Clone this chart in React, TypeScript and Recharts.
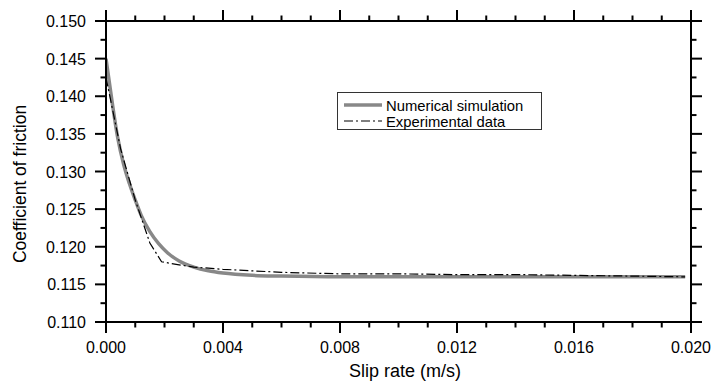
import { Legend, Line, LineChart, XAxis, YAxis } from 'recharts';

// numerical simulation (gray solid)
const simX = [0, 0.0002, 0.0004, 0.0006, 0.0008, 0.001, 0.0012, 0.0015, 0.0018, 0.0021, 0.0025, 0.003, 0.0035, 0.004, 0.005, 0.006, 0.008, 0.012, 0.016, 0.0198];
const simY = [0.145, 0.1395, 0.1345, 0.131, 0.1284, 0.1262, 0.1242, 0.122, 0.1204, 0.1192, 0.1181, 0.1173, 0.1168, 0.1165, 0.1162, 0.1161, 0.116, 0.116, 0.116, 0.116];

// experimental data (black dash-dot)
const expX = [0, 0.0005, 0.001, 0.0015, 0.0019, 0.0025, 0.003, 0.004, 0.005, 0.006, 0.008, 0.01, 0.012, 0.014, 0.016, 0.018, 0.0198];
const expY = [0.1425, 0.133, 0.1262, 0.1205, 0.118, 0.1176, 0.1173, 0.117, 0.1168, 0.1166, 0.1164, 0.1164, 0.1163, 0.1163, 0.1162, 0.1161, 0.116];

const xTicks = [0, 0.001, 0.002, 0.003, 0.004, 0.005, 0.006, 0.007, 0.008, 0.009, 0.01, 0.011, 0.012, 0.013, 0.014, 0.015, 0.016, 0.017, 0.018, 0.019, 0.02];
const xLabelTicks = [0, 0.004, 0.008, 0.012, 0.016, 0.02];
const yTicks = [0.11, 0.1125, 0.115, 0.1175, 0.12, 0.1225, 0.125, 0.1275, 0.13, 0.1325, 0.135, 0.1375, 0.14, 0.1425, 0.145, 0.1475, 0.15];
const yLabelTicks = [0.11, 0.115, 0.12, 0.125, 0.13, 0.135, 0.14, 0.145, 0.15];

const simData = simX.map((x, i) => ({ x, y: simY[i] }));
const expData = expX.map((x, i) => ({ x, y: expY[i] }));

const FONT = '"Liberation Sans", Arial, sans-serif';
const MAJOR = 11;
const MINOR = 5.5;

const isIn = (v: number, list: number[]) => list.some((t) => Math.abs(t - v) < 1e-7);

function makeTick(side: 'bottom' | 'top' | 'left' | 'right') {
  return (props: any) => {
    const { x, y, payload } = props;
    const v = payload.value;
    const major = isIn(v, side === 'bottom' || side === 'top' ? xLabelTicks : yLabelTicks);
    const len = major ? MAJOR : MINOR;
    if (side === 'bottom') {
      return (
        <g>
          <line x1={x} y1={y} x2={x} y2={y + len} stroke="#000" strokeWidth={2} />
          {major && (
            <text x={x} y={y + 31} textAnchor="middle" fontSize={16} fontFamily={FONT} fill="#000">
              {v.toFixed(3)}
            </text>
          )}
        </g>
      );
    }
    if (side === 'top') {
      return <line x1={x} y1={y} x2={x} y2={y - len} stroke="#000" strokeWidth={2} />;
    }
    if (side === 'left') {
      return (
        <g>
          <line x1={x} y1={y} x2={x - len} y2={y} stroke="#000" strokeWidth={2} />
          {major && (
            <text x={x - 20} y={y + 6} textAnchor="end" fontSize={16} fontFamily={FONT} fill="#000">
              {v.toFixed(3)}
            </text>
          )}
        </g>
      );
    }
    return <line x1={x} y1={y} x2={x + len} y2={y} stroke="#000" strokeWidth={2} />;
  };
}

function LegendBox() {
  return (
    <svg width={206} height={39} style={{ display: 'block' }}>
      <rect x={0.5} y={0.5} width={204} height={37} fill="#fff" stroke="#333" strokeWidth={1} />
      <line x1={7} y1={13} x2={45} y2={13} stroke="#888" strokeWidth={3.5} />
      <text x={49} y={18.5} fontSize={14.8} fontFamily={FONT} fill="#000">Numerical simulation</text>
      <line x1={7} y1={29} x2={45} y2={29} stroke="#000" strokeWidth={1.2} strokeDasharray="9 3 2 3" />
      <text x={49} y={34.5} fontSize={14.8} fontFamily={FONT} fill="#000">Experimental data</text>
    </svg>
  );
}

export default function App() {
  return (
    <div style={{ position: 'absolute', left: 0, top: 0, width: 712, height: 389, background: '#fff' }}>
      <LineChart width={712} height={389} margin={{ top: 0, right: 0, bottom: 0, left: 0 }}>
        <XAxis
          xAxisId="bottom"
          type="number"
          dataKey="x"
          domain={[0, 0.02]}
          ticks={xTicks}
          interval={0}
          height={67}
          orientation="bottom"
          axisLine={{ stroke: '#000', strokeWidth: 2 }}
          tickLine={false}
          tickSize={0}
          tickMargin={0}
          tick={makeTick('bottom')}
          allowDataOverflow
          label={{
            content: () => (
              <text x={405} y={377} textAnchor="middle" fontSize={18} fontFamily={FONT} fill="#000">
                Slip rate (m/s)
              </text>
            ),
          }}
        />
        <XAxis
          xAxisId="top"
          type="number"
          dataKey="x"
          domain={[0, 0.02]}
          ticks={xTicks}
          interval={0}
          height={21}
          orientation="top"
          axisLine={{ stroke: '#000', strokeWidth: 2 }}
          tickLine={false}
          tickSize={0}
          tickMargin={0}
          tick={makeTick('top')}
          allowDataOverflow
        />
        <YAxis
          yAxisId="left"
          type="number"
          domain={[0.11, 0.15]}
          ticks={yTicks}
          interval={0}
          width={106}
          orientation="left"
          axisLine={{ stroke: '#000', strokeWidth: 2 }}
          tickLine={false}
          tickSize={0}
          tickMargin={0}
          tick={makeTick('left')}
          allowDataOverflow
          label={{
            content: () => (
              <text
                x={26}
                y={184}
                transform="rotate(-90 26 184)"
                textAnchor="middle"
                fontSize={17.5}
                fontFamily={FONT}
                fill="#000"
              >
                Coefficient of friction
              </text>
            ),
          }}
        />
        <YAxis
          yAxisId="right"
          type="number"
          domain={[0.11, 0.15]}
          ticks={yTicks}
          interval={0}
          width={21}
          orientation="right"
          axisLine={{ stroke: '#000', strokeWidth: 2 }}
          tickLine={false}
          tickSize={0}
          tickMargin={0}
          tick={makeTick('right')}
          allowDataOverflow
        />
        <Legend
          layout="horizontal"
          verticalAlign="middle"
          align="center"
          content={() => <LegendBox />}
          wrapperStyle={{ position: 'absolute', left: 337, top: 92, width: 206, height: 39 }}
        />
        <Line
          xAxisId="bottom"
          yAxisId="left"
          data={simData}
          dataKey="y"
          type="monotone"
          stroke="#888"
          strokeWidth={3.5}
          dot={false}
          isAnimationActive={false}
        />
        <Line
          xAxisId="bottom"
          yAxisId="left"
          data={expData}
          dataKey="y"
          type="linear"
          stroke="#000"
          strokeWidth={1.2}
          strokeDasharray="9 3 2 3"
          dot={false}
          isAnimationActive={false}
        />
      </LineChart>
    </div>
  );
}
